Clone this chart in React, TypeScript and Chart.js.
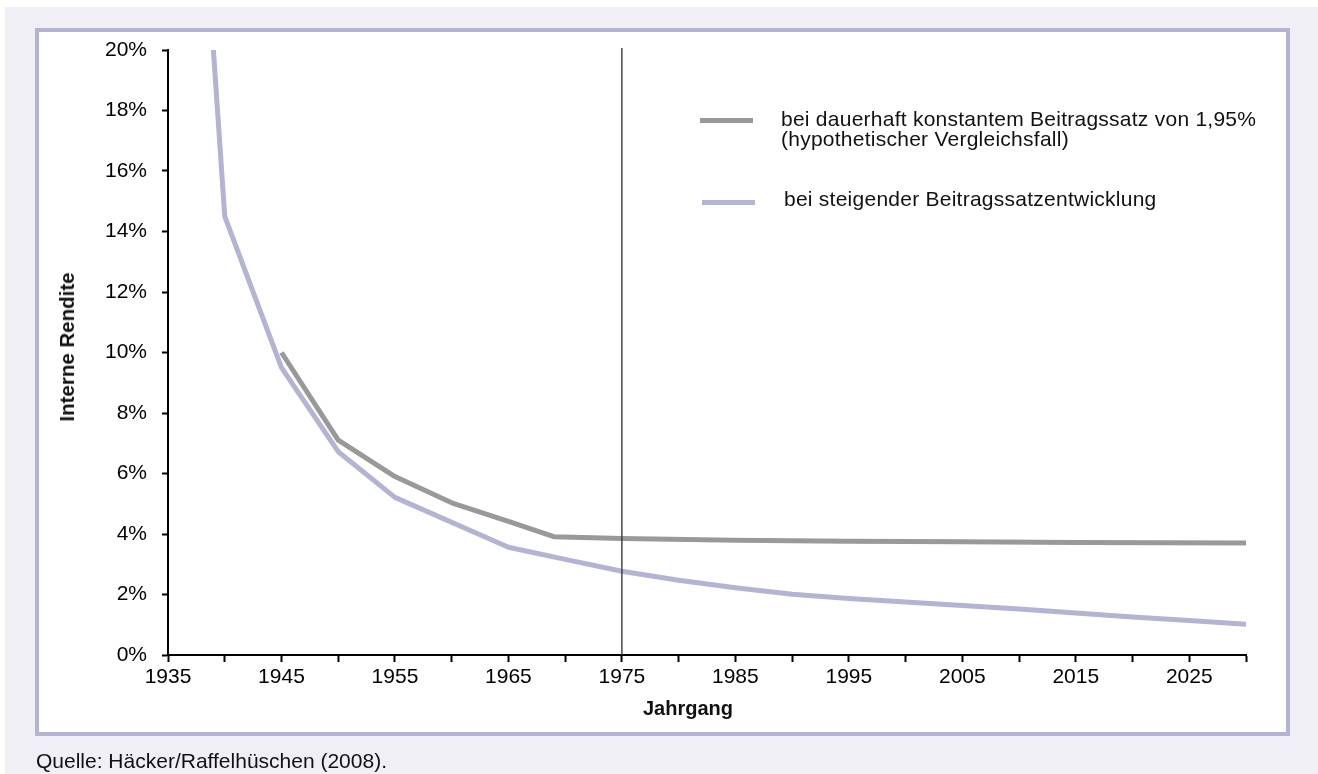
import React, { useEffect, useRef } from 'react';
import { Chart, registerables } from 'chart.js';

Chart.register(...registerables);

// ---- data ----
const steigendYears = [1939, 1940, 1945, 1950, 1955, 1965, 1970, 1975, 1980, 1985, 1990, 1995, 2000, 2005, 2010, 2015, 2020, 2025, 2030];
const steigendValues = [20, 14.5, 9.5, 6.72, 5.21, 3.56, 3.16, 2.77, 2.47, 2.22, 2.01, 1.87, 1.75, 1.64, 1.52, 1.39, 1.26, 1.14, 1.02];

const konstantYears = [1945, 1950, 1955, 1960, 1965, 1969, 1975, 1985, 1995, 2005, 2015, 2030];
const konstantValues = [10.0, 7.1, 5.9, 5.03, 4.42, 3.91, 3.85, 3.79, 3.76, 3.74, 3.72, 3.7];

const xTickValues = [1935, 1940, 1945, 1950, 1955, 1960, 1965, 1970, 1975, 1980, 1985, 1990, 1995, 2000, 2005, 2010, 2015, 2020, 2025, 2030];
const xLabelValues = [1935, 1945, 1955, 1965, 1975, 1985, 1995, 2005, 2015, 2025];
const yTickValues = [0, 2, 4, 6, 8, 10, 12, 14, 16, 18, 20];
const markerYear = 1975;

const legendKonstant = ['bei dauerhaft konstantem Beitragssatz von 1,95%', '(hypothetischer Vergleichsfall)'];
const legendSteigend = 'bei steigender Beitragssatzentwicklung';
const xTitle = 'Jahrgang';
const yTitle = 'Interne Rendite';
const sourceText = 'Quelle: Häcker/Raffelhüschen (2008).';

const LAVENDER = '#b3b3d3';
const GRAY = '#999999';
const FONT = 'Liberation Sans, Arial, sans-serif';

const markerPlugin = {
  id: 'markerLine',
  afterDatasetsDraw(chart: any) {
    const { ctx, chartArea, scales } = chart;
    const x = scales.x.getPixelForValue(markerYear);
    ctx.save();
    ctx.strokeStyle = '#3a3a3a';
    ctx.lineWidth = 1.4;
    ctx.beginPath();
    ctx.moveTo(x, chartArea.top - 2);
    ctx.lineTo(x, chartArea.bottom);
    ctx.stroke();
    ctx.restore();
  },
};

export default function App() {
  const ref = useRef<HTMLCanvasElement>(null);

  useEffect(() => {
    const tickFont = { family: FONT, size: 21 };
    const chart = new Chart(ref.current as HTMLCanvasElement, {
      type: 'line',
      data: {
        datasets: [
          {
            label: legendSteigend,
            data: steigendYears.map((x, i) => ({ x, y: steigendValues[i] })),
            borderColor: LAVENDER,
            backgroundColor: LAVENDER,
            borderWidth: 5,
            pointRadius: 0,
            tension: 0,
            borderJoinStyle: 'round',
          },
          {
            label: legendKonstant.join(' '),
            data: konstantYears.map((x, i) => ({ x, y: konstantValues[i] })),
            borderColor: GRAY,
            backgroundColor: GRAY,
            borderWidth: 5,
            pointRadius: 0,
            tension: 0,
            borderJoinStyle: 'round',
          },
        ],
      },
      options: {
        animation: false,
        responsive: false,
        events: [],
        layout: { padding: { left: 39, right: 72, top: 50, bottom: 39 } },
        plugins: { legend: { display: false }, tooltip: { enabled: false } },
        scales: {
          x: {
            type: 'linear',
            min: 1935,
            max: 2030,
            afterBuildTicks: (s: any) => {
              s.ticks = xTickValues.map((v) => ({ value: v }));
            },
            afterFit: (s: any) => {
              s.height = 80;
            },
            ticks: {
              autoSkip: false,
              maxRotation: 0,
              padding: 3,
              color: '#000',
              font: tickFont,
              callback: (v: any) => (xLabelValues.includes(Number(v)) ? String(v) : ''),
            },
            grid: { drawOnChartArea: false, tickLength: 7, tickWidth: 2, tickColor: '#000' },
            border: { color: '#000', width: 2 },
          },
          y: {
            type: 'linear',
            min: 0,
            max: 20,
            afterBuildTicks: (s: any) => {
              s.ticks = yTickValues.map((v) => ({ value: v }));
            },
            afterFit: (s: any) => {
              s.width = 129;
            },
            ticks: {
              padding: 15,
              color: '#000',
              font: tickFont,
              callback: (v: any) => `${v}%`,
            },
            grid: { drawOnChartArea: false, tickLength: 6, tickWidth: 2, tickColor: '#000' },
            border: { color: '#000', width: 2 },
          },
        },
      } as any,
      plugins: [markerPlugin],
    });
    return () => chart.destroy();
  }, []);

  const textBase: React.CSSProperties = {
    position: 'absolute',
    fontFamily: FONT,
    fontSize: 21,
    color: '#111',
    whiteSpace: 'nowrap',
    margin: 0,
  };

  return (
    <div style={{ position: 'fixed', left: 0, top: 0, width: 1318, height: 774, background: '#fff', overflow: 'hidden' }}>
      <div style={{ position: 'absolute', left: 5, top: 7, right: 0, bottom: 0, background: '#efeff5' }} />
      <div
        style={{
          position: 'absolute',
          left: 35,
          top: 28,
          width: 1255,
          height: 708,
          boxSizing: 'border-box',
          border: `4px solid ${LAVENDER}`,
          background: '#fff',
        }}
      />
      <canvas ref={ref} width={1318} height={774} style={{ position: 'absolute', left: 0, top: 0, width: 1318, height: 774 }} />

      {/* legend */}
      <div style={{ position: 'absolute', left: 700, top: 117.5, width: 53, height: 5, background: GRAY }} />
      <div style={{ ...textBase, left: 781, top: 109.4, lineHeight: '20px', letterSpacing: '0.25px' }}>
        {legendKonstant.map((t) => (
          <div key={t}>{t}</div>
        ))}
      </div>
      <div style={{ position: 'absolute', left: 702, top: 200, width: 53, height: 5, background: LAVENDER }} />
      <div style={{ ...textBase, left: 784, top: 189.4, lineHeight: '20px', letterSpacing: '0.25px' }}>{legendSteigend}</div>

      {/* axis titles */}
      <div style={{ ...textBase, fontSize: 20, left: 688, top: 698.4, lineHeight: '20px', fontWeight: 'bold', transform: 'translateX(-50%)' }}>{xTitle}</div>
      <div
        style={{
          ...textBase,
          fontSize: 20.5,
          left: 67,
          top: 346.7,
          lineHeight: '20px',
          fontWeight: 'bold',
          transform: 'translate(-50%, -50%) rotate(-90deg)',
        }}
      >
        {yTitle}
      </div>

      {/* source */}
      <div style={{ ...textBase, left: 36, top: 750.2, lineHeight: '21px' }}>{sourceText}</div>
    </div>
  );
}
